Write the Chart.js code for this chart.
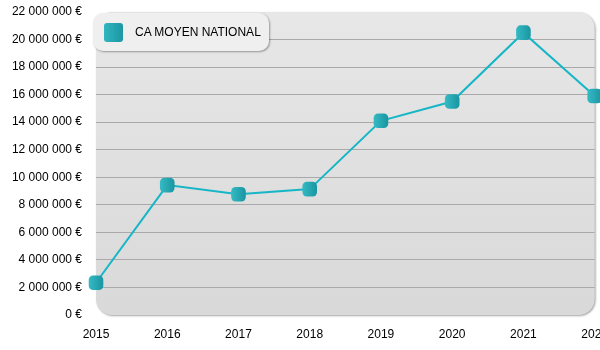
<!DOCTYPE html>
<html>
<head>
<meta charset="utf-8">
<script src="https://cdn.jsdelivr.net/npm/chart.js@4/dist/chart.umd.min.js"></script>
<style>
  html, body { margin: 0; padding: 0; background: #fff; overflow: hidden; width: 600px; height: 350px; }
  #wrap { position: relative; width: 620px; height: 350px; }
  #legend {
    position: absolute; left: 93px; top: 13px; width: 176px; height: 38px;
    background: #efefef; border-radius: 10px;
    box-shadow: 1px 1px 2px rgba(0,0,0,0.35);
    font-family: "Liberation Sans", Arial, sans-serif; font-size: 12px; color: #000;
    display: flex; align-items: center;
  }
  #legend .box {
    width: 19px; height: 19px; margin-left: 11px; margin-right: 12px; border-radius: 3px;
    background: linear-gradient(to right, #31b6bf, #1b97a3);
  }
</style>
</head>
<body>
<div id="wrap">
  <canvas id="chart" width="620" height="350"></canvas>
  <div id="legend"><span class="box"></span><span id="legendText"></span></div>
</div>
<script>
const years = ['2015', '2016', '2017', '2018', '2019', '2020', '2021', '2022'];
const caMoyen = [2340000, 9430000, 8770000, 9140000, 14100000, 15500000, 20500000, 15900000];
const seriesLabel = 'CA MOYEN NATIONAL';

document.getElementById('legendText').textContent = seriesLabel;

// fond arrondi de la zone de tracé
const plotBg = {
  id: 'plotBg',
  beforeDraw(chart) {
    const { ctx, chartArea: a } = chart;
    const r = 16;
    ctx.save();
    ctx.shadowColor = 'rgba(0,0,0,0.35)';
    ctx.shadowBlur = 2;
    ctx.shadowOffsetX = 1;
    ctx.shadowOffsetY = 1;
    const g = ctx.createLinearGradient(0, a.top, 0, a.bottom);
    g.addColorStop(0, '#e7e7e7');
    g.addColorStop(1, '#d9d9d9');
    ctx.fillStyle = g;
    ctx.beginPath();
    ctx.roundRect(a.left, a.top, a.right - a.left, a.bottom - a.top, r);
    ctx.fill();
    ctx.restore();
  }
};

function markerFill(c) {
  const chart = c.chart;
  if (!chart.chartArea || !chart.scales.x) return '#25a9b2';
  const x = chart.scales.x.getPixelForValue(c.dataIndex);
  const g = chart.ctx.createLinearGradient(x - 7, 0, x + 7, 0);
  g.addColorStop(0, '#35b9c2');
  g.addColorStop(1, '#1996a2');
  return g;
}

const fmt = v => (v === 0 ? '0' : v.toLocaleString('fr-FR').replace(/\s/g, ' ')) + ' €';

new Chart(document.getElementById('chart'), {
  type: 'line',
  data: {
    labels: years,
    datasets: [{
      label: seriesLabel,
      data: caMoyen,
      borderColor: '#16b6c6',
      borderWidth: 2,
      tension: 0,
      pointStyle: 'rectRounded',
      pointRadius: 8.5,
      pointHoverRadius: 8.5,
      pointBorderWidth: 0,
      pointBackgroundColor: markerFill,
      clip: false
    }]
  },
  options: {
    responsive: false,
    animation: false,
    layout: { padding: { left: 0, top: 12, right: 25, bottom: 0 } },
    plugins: { legend: { display: false }, tooltip: { enabled: false } },
    scales: {
      x: {
        offset: false,
        grid: { display: false, drawTicks: false },
        border: { display: false },
        ticks: { color: '#000', padding: 12, maxRotation: 0, font: { family: 'Liberation Sans', size: 12 } },
        afterFit(s) { s.height = 35; }
      },
      y: {
        min: 0, max: 22000000,
        ticks: { stepSize: 2000000, color: '#000', padding: 14, callback: fmt, font: { family: 'Liberation Sans', size: 12 } },
        grid: {
          color: c => (c.tick && (c.tick.value === 0 || c.tick.value === 22000000)) ? 'rgba(0,0,0,0)' : '#a9a9a9',
          lineWidth: 1, drawTicks: false
        },
        border: { display: false },
        afterFit(s) { s.width = 96; s.paddingTop = 0; s.paddingBottom = 0; }
      }
    }
  },
  plugins: [plotBg]
});
</script>
</body>
</html>
